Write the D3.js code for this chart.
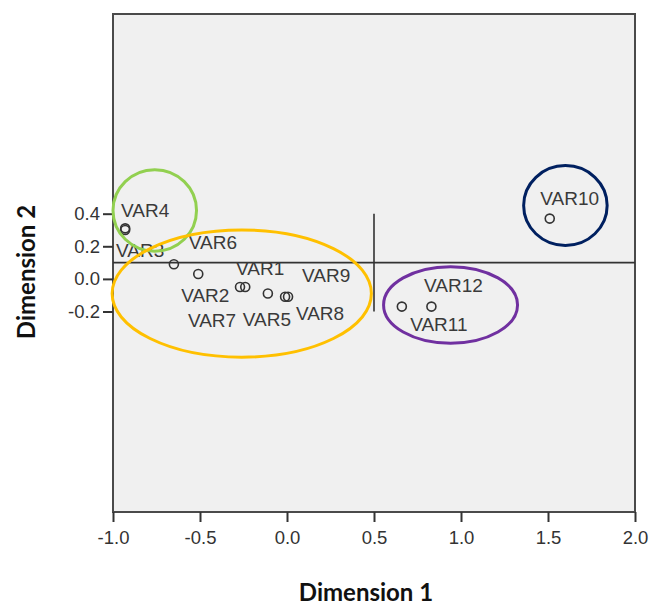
<!DOCTYPE html>
<html>
<head>
<meta charset="utf-8">
<script src="https://cdn.jsdelivr.net/npm/d3@7"></script>
<style>
  body { margin: 0; background: #fff; }
  svg text { font-family: "Liberation Sans", Arial, sans-serif; }
</style>
</head>
<body>
<div id="container"></div>
<script>
/* CONSTANTS AND GLOBALS */
const width = 651,
  height = 604,
  margin = { top: 14, bottom: 92, left: 113, right: 16 };

// object points (dimension 1, dimension 2)
const names = ["VAR1", "VAR2", "VAR3", "VAR4", "VAR5", "VAR6", "VAR7", "VAR8", "VAR9", "VAR10", "VAR11", "VAR12"]
const dim1 = [-0.24, -0.51, -0.93, -0.93, -0.11, -0.65, -0.27, 0.006, -0.011, 1.51, 0.66, 0.83]
const dim2 = [-0.05, 0.03, 0.30, 0.31, -0.09, 0.09, -0.05, -0.11, -0.11, 0.37, -0.17, -0.17]

const xTicks = [-1.0, -0.5, 0.0, 0.5, 1.0, 1.5, 2.0]
const yTicks = [-0.2, 0.0, 0.2, 0.4]

// reference lines
const refY = 0.1
const refX = 0.5
const refXSpan = [-0.2, 0.4]

// highlighted groups: center x, center y, radius x, radius y (data units)
const groupColors = ["#92d050", "#ffc000", "#7030a0", "#002060"]
const groupCx = [-0.76, -0.26, 0.94, 1.60]
const groupCy = [0.42, -0.09, -0.16, 0.45]
const groupRx = [0.24, 0.745, 0.385, 0.24]
const groupRy = [0.25, 0.39, 0.235, 0.245]

// label placement, pixels from the point
const labelOffset = {
  VAR1: [15, -19], VAR2: [7, 21], VAR3: [15, 21], VAR4: [20, -18],
  VAR5: [-1, 26], VAR6: [39, -22], VAR7: [-28, 33], VAR8: [32, 17],
  VAR9: [41, -21], VAR10: [20, -20], VAR11: [37, 18], VAR12: [22, -21]
}

const points = names.map((n, i) => ({ name: n, d1: dim1[i], d2: dim2[i] }))
const groups = groupColors.map((c, i) => ({ color: c, cx: groupCx[i], cy: groupCy[i], rx: groupRx[i], ry: groupRy[i] }))

// SPSS shows a plain hyphen for negatives
const fmt = d => d3.format(".1f")(d).replace("\u2212", "-")

const svg = d3.select("#container")
  .append("svg")
  .attr("width", width)
  .attr("height", height);

const xScale = d3.scaleLinear()
  .domain([-1, 2])
  .range([margin.left, width - margin.right])

const yScale = d3.scaleLinear()
  .domain([-1.43, 1.625])
  .range([height - margin.bottom, margin.top])

// plot background
svg.append("rect")
  .attr("x", xScale(-1))
  .attr("y", yScale(1.625))
  .attr("width", xScale(2) - xScale(-1))
  .attr("height", yScale(-1.43) - yScale(1.625))
  .attr("fill", "#f0f0f0")
  .attr("stroke", "#4a4a4a")
  .attr("stroke-width", 2)

// axes
const xAxis = d3.axisBottom(xScale)
  .tickValues(xTicks)
  .tickFormat(fmt)
  .tickSize(10)
  .tickSizeOuter(0)

const yAxis = d3.axisLeft(yScale)
  .tickValues(yTicks)
  .tickFormat(fmt)
  .tickSize(10)
  .tickSizeOuter(0)

svg.append("g")
  .attr("transform", `translate(0, ${yScale(-1.43)})`)
  .call(xAxis)
  .call(g => g.select(".domain").remove())
  .call(g => g.selectAll("line").attr("stroke", "#333").attr("stroke-width", 2))
  .call(g => g.selectAll("text").attr("font-size", 18.5).attr("fill", "#333").attr("dy", "1.0em"))

svg.append("g")
  .attr("transform", `translate(${xScale(-1)}, 0)`)
  .call(yAxis)
  .call(g => g.select(".domain").remove())
  .call(g => g.selectAll("line").attr("stroke", "#333").attr("stroke-width", 2))
  .call(g => g.selectAll("text").attr("font-size", 18.5).attr("fill", "#333").attr("x", -13))

// reference lines
svg.append("line")
  .attr("x1", xScale(-1)).attr("x2", xScale(2))
  .attr("y1", yScale(refY)).attr("y2", yScale(refY))
  .attr("stroke", "#333").attr("stroke-width", 1.6)

svg.append("line")
  .attr("x1", xScale(refX)).attr("x2", xScale(refX))
  .attr("y1", yScale(refXSpan[1])).attr("y2", yScale(refXSpan[0]))
  .attr("stroke", "#333").attr("stroke-width", 1.6)

// points
svg.selectAll("circle.pt")
  .data(points)
  .join("circle")
  .attr("class", "pt")
  .attr("cx", d => xScale(d.d1))
  .attr("cy", d => yScale(d.d2))
  .attr("r", 4.5)
  .attr("fill", "none")
  .attr("stroke", "#333")
  .attr("stroke-width", 1.6)

svg.selectAll("text.lbl")
  .data(points)
  .join("text")
  .attr("class", "lbl")
  .attr("x", d => xScale(d.d1) + labelOffset[d.name][0])
  .attr("y", d => yScale(d.d2) + labelOffset[d.name][1])
  .attr("text-anchor", "middle")
  .attr("dominant-baseline", "central")
  .attr("font-size", 19)
  .attr("fill", "#3a3a3a")
  .text(d => d.name)

// group ellipses
svg.selectAll("ellipse.group")
  .data(groups)
  .join("ellipse")
  .attr("class", "group")
  .attr("cx", d => xScale(d.cx))
  .attr("cy", d => yScale(d.cy))
  .attr("rx", d => xScale(d.rx) - xScale(0))
  .attr("ry", d => yScale(0) - yScale(d.ry))
  .attr("fill", "none")
  .attr("stroke", d => d.color)
  .attr("stroke-width", 3)

// axis titles
svg.append("text")
  .attr("x", (xScale(-1) + xScale(2)) / 2 - 8)
  .attr("y", 591)
  .attr("text-anchor", "middle")
  .attr("dominant-baseline", "central")
  .style("font-family", "Lato, 'Open Sans', sans-serif")
  .attr("font-weight", "bold")
  .attr("font-size", 24)
  .attr("fill", "#111")
  .text("Dimension 1")

svg.append("text")
  .attr("transform", `translate(25, 272) rotate(-90)`)
  .attr("text-anchor", "middle")
  .attr("dominant-baseline", "central")
  .style("font-family", "Lato, 'Open Sans', sans-serif")
  .attr("font-weight", "bold")
  .attr("font-size", 24)
  .attr("fill", "#111")
  .text("Dimension 2")
</script>
</body>
</html>
